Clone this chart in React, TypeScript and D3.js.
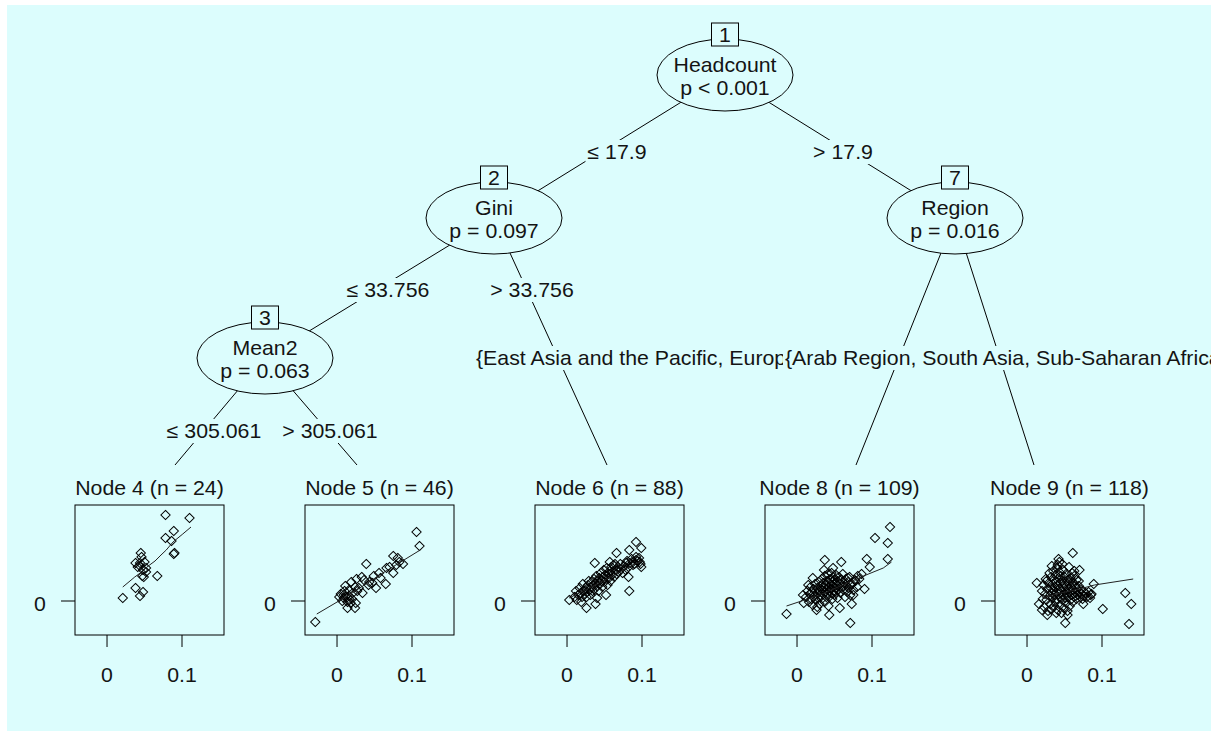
import React from "react";
import * as d3 from "d3";

// ---------- tree structure ----------
const innerIds = [1, 2, 3, 7];
const splitVars = ["Headcount", "Gini", "Mean2", "Region"];
const pLabels = ["p < 0.001", "p = 0.097", "p = 0.063", "p = 0.016"];

const edgeFrom = [1, 1, 2, 2, 3, 3, 7, 7];
const edgeTo = [2, 7, 3, 6, 4, 5, 8, 9];
const edgeText = [
  "≤ 17.9",
  "> 17.9",
  "≤ 33.756",
  "> 33.756",
  "≤ 305.061",
  "> 305.061",
  "{East Asia and the Pacific, Europe and Central Asia, Latin America and the Caribbean}",
  "{Arab Region, South Asia, Sub-Saharan Africa}",
];

const leafIds = [4, 5, 6, 8, 9];
const leafN = [24, 46, 88, 109, 118];

const xTicks = [0, 0.1];
const yTicks = [0];
const xDomain = [-0.0427, 0.156];
const yDomain = [-0.034, 0.096];

// ---------- terminal node observations ----------
const node4Points: [number, number][] = [
  [0.078, 0.086], [0.110, 0.083], [0.089, 0.070], [0.078, 0.063], [0.086, 0.060],
  [0.090, 0.048], [0.089, 0.047], [0.045, 0.048], [0.046, 0.044], [0.038, 0.038],
  [0.050, 0.039], [0.044, 0.035], [0.052, 0.033], [0.048, 0.031], [0.052, 0.029],
  [0.047, 0.025], [0.049, 0.024], [0.067, 0.025], [0.044, 0.038], [0.038, 0.013],
  [0.048, 0.009], [0.044, 0.005], [0.021, 0.003], [0.041, 0.034],
];
const node4Fit: [number, number][] = [
  [0.021, 0.014], [0.037, 0.024], [0.046, 0.029], [0.055, 0.035], [0.064, 0.040],
  [0.072, 0.046], [0.079, 0.051], [0.088, 0.059], [0.101, 0.067], [0.112, 0.074],
];

const node5Points: [number, number][] = [
  [0.106, 0.069], [0.110, 0.055], [0.075, 0.045], [0.081, 0.043], [0.083, 0.039],
  [0.088, 0.037], [0.079, 0.036], [0.039, 0.037], [0.066, 0.033], [0.075, 0.028],
  [0.049, 0.025], [0.058, 0.023], [0.033, 0.024], [0.026, 0.022], [0.043, 0.019],
  [0.065, 0.017], [0.052, 0.013], [0.019, 0.019], [0.011, 0.015], [0.024, 0.014],
  [0.034, 0.008], [0.016, 0.011], [0.009, 0.006], [0.003, 0.004], [0.011, 0.004],
  [0.016, 0.005], [0.007, 0.000], [0.014, -0.001], [0.020, 0.002], [0.018, -0.002],
  [0.025, -0.002], [0.014, -0.007], [0.024, -0.007], [-0.029, -0.021], [0.027, 0.010],
  [0.021, 0.008], [0.010, 0.010], [0.005, 0.007], [0.016, 0.002], [0.009, 0.003],
  [0.029, 0.013], [0.042, 0.016], [0.036, 0.021], [0.047, 0.018], [0.056, 0.028],
  [0.070, 0.034],
];
const node5Fit: [number, number][] = [
  [-0.027, -0.013], [0.016, 0.006], [0.061, 0.028], [0.111, 0.051],
];

const node6Points: [number, number][] = [
  [0.092, 0.059], [0.099, 0.053], [0.083, 0.051], [0.066, 0.048], [0.037, 0.038],
  [0.079, 0.038], [0.092, 0.041], [0.097, 0.039], [0.099, 0.034], [0.088, 0.036],
  [0.057, 0.039], [0.064, 0.037], [0.082, 0.024], [0.083, 0.010], [0.052, 0.006],
  [0.038, -0.003], [0.026, -0.007], [0.003, 0.001], [0.013, 0.001], [0.019, -0.001],
  [0.026, 0.004], [0.017, 0.013], [0.012, 0.010], [0.015, 0.006], [0.018, 0.008],
  [0.020, 0.004], [0.022, 0.010], [0.024, 0.007], [0.025, 0.013], [0.027, 0.009],
  [0.028, 0.016], [0.030, 0.011], [0.031, 0.006], [0.032, 0.014], [0.033, 0.019],
  [0.034, 0.010], [0.035, 0.016], [0.036, 0.022], [0.037, 0.012], [0.038, 0.018],
  [0.039, 0.025], [0.040, 0.015], [0.041, 0.020], [0.042, 0.010], [0.043, 0.023],
  [0.044, 0.017], [0.045, 0.028], [0.046, 0.020], [0.047, 0.014], [0.048, 0.024],
  [0.049, 0.031], [0.050, 0.019], [0.051, 0.026], [0.052, 0.022], [0.053, 0.033],
  [0.054, 0.016], [0.055, 0.027], [0.056, 0.023], [0.057, 0.030], [0.058, 0.020],
  [0.059, 0.034], [0.060, 0.026], [0.061, 0.029], [0.062, 0.036], [0.063, 0.024],
  [0.065, 0.031], [0.066, 0.027], [0.068, 0.034], [0.069, 0.029], [0.071, 0.037],
  [0.072, 0.032], [0.074, 0.028], [0.076, 0.035], [0.078, 0.031], [0.080, 0.040],
  [0.082, 0.034], [0.084, 0.038], [0.086, 0.042], [0.088, 0.039], [0.090, 0.037],
  [0.092, 0.044], [0.094, 0.040], [0.096, 0.043], [0.098, 0.037], [0.029, 0.020],
  [0.021, 0.017], [0.040, 0.003], [0.010, 0.004],
];
const node6Fit: [number, number][] = [
  [0.003, 0.003], [0.040, 0.017], [0.070, 0.029], [0.099, 0.040],
];

const node8Points: [number, number][] = [
  [0.124, 0.074], [0.104, 0.063], [0.121, 0.058], [0.121, 0.042], [0.093, 0.042],
  [0.097, 0.034], [0.090, 0.012], [0.073, -0.003], [0.071, -0.022], [-0.014, -0.013],
  [0.037, 0.041], [0.059, 0.039], [0.081, 0.025], [0.077, 0.021], [0.057, -0.007],
  [0.043, -0.014], [0.026, -0.009], [0.009, -0.002], [0.021, 0.023], [0.036, 0.031],
  [0.048, 0.033], [0.068, 0.023], [0.072, 0.016], [0.075, 0.006],
  [0.012, 0.004], [0.014, 0.010], [0.016, -0.001], [0.017, 0.007], [0.018, 0.014],
  [0.019, 0.002], [0.020, 0.009], [0.021, -0.004], [0.022, 0.012], [0.023, 0.005],
  [0.024, 0.017], [0.025, 0.001], [0.026, 0.008], [0.027, 0.013], [0.028, 0.003],
  [0.029, 0.019], [0.030, 0.010], [0.030, -0.003], [0.031, 0.006], [0.032, 0.015],
  [0.033, 0.022], [0.033, 0.002], [0.034, 0.011], [0.035, 0.007], [0.035, 0.018],
  [0.036, 0.013], [0.037, -0.001], [0.037, 0.025], [0.038, 0.009], [0.038, 0.016],
  [0.039, 0.004], [0.040, 0.012], [0.040, 0.020], [0.041, 0.008], [0.041, 0.027],
  [0.042, 0.014], [0.042, -0.005], [0.043, 0.010], [0.043, 0.018], [0.044, 0.005],
  [0.044, 0.022], [0.045, 0.012], [0.045, 0.016], [0.046, 0.008], [0.046, 0.028],
  [0.047, 0.019], [0.047, 0.002], [0.048, 0.014], [0.048, 0.024], [0.049, 0.010],
  [0.049, 0.017], [0.050, 0.006], [0.050, 0.021], [0.051, 0.013], [0.052, 0.026],
  [0.052, 0.009], [0.053, 0.016], [0.054, 0.003], [0.054, 0.020], [0.055, 0.012],
  [0.056, 0.024], [0.057, 0.017], [0.058, 0.008], [0.059, 0.021], [0.060, 0.014],
  [0.061, 0.027], [0.062, 0.011], [0.063, 0.018], [0.064, 0.004], [0.065, 0.022],
  [0.066, 0.015], [0.067, 0.009], [0.068, 0.019], [0.069, 0.013], [0.070, 0.024],
  [0.071, 0.006], [0.073, 0.017], [0.075, 0.011], [0.078, 0.020], [0.080, 0.014],
  [0.083, 0.022], [0.086, 0.027], [0.008, 0.006], [0.015, 0.016], [0.027, -0.006],
];
const node8Fit: [number, number][] = [
  [-0.014, -0.005], [0.030, 0.006], [0.061, 0.016], [0.092, 0.026], [0.115, 0.033],
  [0.126, 0.039],
];

const node9Points: [number, number][] = [
  [0.061, 0.048], [0.042, 0.042], [0.043, 0.039], [0.070, 0.031], [0.063, 0.030],
  [0.089, 0.017], [0.069, 0.020], [0.013, 0.018], [0.131, 0.008], [0.139, -0.003],
  [0.136, -0.023], [0.101, -0.008], [0.075, -0.003], [0.051, -0.022], [0.054, -0.014],
  [0.016, -0.003], [0.020, -0.009], [0.027, -0.014], [0.039, -0.012], [0.085, 0.006],
  [0.020, 0.010], [0.021, 0.002], [0.022, 0.016], [0.023, -0.006], [0.024, 0.007],
  [0.025, 0.022], [0.026, 0.001], [0.027, 0.012], [0.028, -0.010], [0.029, 0.018],
  [0.030, 0.005], [0.030, 0.028], [0.031, -0.003], [0.032, 0.013], [0.032, 0.024],
  [0.033, 0.008], [0.033, -0.008], [0.034, 0.017], [0.034, 0.003], [0.035, 0.030],
  [0.035, 0.011], [0.036, -0.005], [0.036, 0.021], [0.037, 0.006], [0.037, 0.014],
  [0.038, 0.026], [0.038, -0.001], [0.039, 0.009], [0.039, 0.019], [0.040, 0.033],
  [0.040, 0.002], [0.041, 0.015], [0.041, -0.009], [0.042, 0.023], [0.042, 0.007],
  [0.043, 0.012], [0.043, 0.029], [0.044, -0.004], [0.044, 0.018], [0.045, 0.004],
  [0.045, 0.025], [0.046, 0.010], [0.046, -0.012], [0.047, 0.020], [0.047, 0.001],
  [0.048, 0.014], [0.048, 0.031], [0.049, 0.006], [0.049, -0.007], [0.050, 0.017],
  [0.050, 0.024], [0.051, 0.003], [0.051, 0.011], [0.052, -0.002], [0.052, 0.027],
  [0.053, 0.015], [0.053, 0.008], [0.054, 0.021], [0.054, -0.010], [0.055, 0.012],
  [0.055, 0.004], [0.056, 0.034], [0.056, 0.018], [0.057, -0.005], [0.057, 0.009],
  [0.058, 0.023], [0.058, 0.001], [0.059, 0.014], [0.060, 0.028], [0.060, 0.006],
  [0.061, -0.001], [0.061, 0.019], [0.062, 0.011], [0.063, 0.025], [0.063, 0.004],
  [0.064, 0.016], [0.065, 0.008], [0.066, 0.021], [0.066, 0.002], [0.067, 0.012],
  [0.068, 0.006], [0.069, 0.015], [0.070, 0.009], [0.071, 0.004], [0.072, 0.011],
  [0.073, 0.007], [0.074, 0.002], [0.075, 0.010], [0.076, 0.005], [0.078, 0.008],
  [0.080, 0.004], [0.082, 0.009], [0.084, 0.003], [0.086, 0.007], [0.026, 0.020],
  [0.033, 0.035], [0.041, 0.036], [0.047, 0.037],
];
const node9Fit: [number, number][] = [
  [0.020, 0.003], [0.045, 0.008], [0.070, 0.012], [0.090, 0.016], [0.1416, 0.022],
];

const leafPoints = [node4Points, node5Points, node6Points, node8Points, node9Points];
const leafFits = [node4Fit, node5Fit, node6Fit, node8Fit, node9Fit];

// ---------- layout ----------
const W = 1220;
const H = 731;
const BG = "#dcfdfd";
const INK = "#141414";
const FONT = '"Liberation Sans", Arial, Helvetica, sans-serif';
const FS = 20;
const SX = 1.065; // horizontal stretch of the lettering

const innerPos: Record<number, [number, number]> = {
  1: [725, 75],
  2: [494, 218],
  3: [265, 358],
  7: [955, 218],
};
const ELL_RX = 68;
const ELL_RY = 36;

const LEAF_TOP = 465;
const leafCenter = (i: number) => 149.5 + 230 * i;
// where each incoming edge meets the top of the terminal panel
const leafEdgeX: Record<number, number> = { 4: 175, 5: 357, 6: 607, 8: 856, 9: 1034 };

// label anchor positions (x, centre y, anchor)
const edgeLabelPos: [number, number, "middle" | "start"][] = [
  [617, 152, "middle"],
  [843, 152, "middle"],
  [388, 290, "middle"],
  [532, 290, "middle"],
  [214, 431, "middle"],
  [330, 431, "middle"],
  [476, 358, "start"],
  [785, 358, "start"],
];

const PANEL_W = 149;
const PANEL_TOP = 505;
const PANEL_BOTTOM = 635;

let measureCtx: CanvasRenderingContext2D | null = null;
function textWidth(t: string): number {
  if (!measureCtx) {
    measureCtx = document.createElement("canvas").getContext("2d");
  }
  if (!measureCtx) return t.length * FS * 0.5 * SX;
  measureCtx.font = `${FS}px ${FONT}`;
  return measureCtx.measureText(t).width * SX;
}

function T({
  x,
  y,
  anchor = "middle",
  children,
}: {
  x: number;
  y: number;
  anchor?: "middle" | "start" | "end";
  children: React.ReactNode;
}) {
  return (
    <text
      transform={`translate(${x},${y}) scale(${SX},1)`}
      textAnchor={anchor}
      fontSize={FS}
      fill={INK}
    >
      {children}
    </text>
  );
}

function diamond(x: number, y: number, r: number) {
  return `M${x},${y - r}L${x + r},${y}L${x},${y + r}L${x - r},${y}Z`;
}

function nodePoint(id: number): [number, number] {
  if (innerPos[id]) return innerPos[id];
  return [leafEdgeX[id], LEAF_TOP];
}

function Leaf({ index }: { index: number }) {
  const cx = leafCenter(index);
  const left = cx - PANEL_W / 2;
  const right = cx + PANEL_W / 2;
  const x = d3.scaleLinear().domain(xDomain).range([left, right]);
  const y = d3.scaleLinear().domain(yDomain).range([PANEL_BOTTOM, PANEL_TOP]);
  const line = d3
    .line<[number, number]>()
    .x((d) => x(d[0]))
    .y((d) => y(d[1]));
  const fmt = d3.format("~g");
  return (
    <g>
      <T x={cx} y={495}>{`Node ${leafIds[index]} (n = ${leafN[index]})`}</T>
      <rect
        x={left}
        y={PANEL_TOP}
        width={PANEL_W}
        height={PANEL_BOTTOM - PANEL_TOP}
        fill="none"
        stroke="#000"
        strokeWidth={1}
      />
      {yTicks.map((t) => (
        <g key={`y${t}`}>
          <line x1={left - 14} x2={left} y1={y(t)} y2={y(t)} stroke="#000" />
          <T x={left - 35} y={y(t) + 10}>{fmt(t)}</T>
        </g>
      ))}
      {xTicks.map((t) => (
        <g key={`x${t}`}>
          <line x1={x(t)} x2={x(t)} y1={PANEL_BOTTOM} y2={PANEL_BOTTOM + 12} stroke="#000" />
          <T x={x(t)} y={PANEL_BOTTOM + 47}>{fmt(t)}</T>
        </g>
      ))}
      <g fill="none" stroke="#000" strokeWidth={1.05}>
        {leafPoints[index].map((p, k) => (
          <path key={k} d={diamond(x(p[0]), y(p[1]), 4.6)} />
        ))}
      </g>
      <path d={line(leafFits[index]) || ""} fill="none" stroke="#222" strokeWidth={1} />
    </g>
  );
}

export default function App() {
  return (
    <svg
      width={W}
      height={H}
      viewBox={`0 0 ${W} ${H}`}
      style={{ position: "absolute", left: 0, top: 0, fontFamily: FONT }}
    >
      <defs>
        <clipPath id="plotClip">
          <rect x={7} y={5} width={1204} height={726} />
        </clipPath>
      </defs>
      <rect x={0} y={0} width={W} height={H} fill="#fff" />
      <rect x={7} y={5} width={1204} height={726} fill={BG} />
      <g clipPath="url(#plotClip)">
        {/* edges */}
        <g stroke="#000" strokeWidth={1}>
          {edgeFrom.map((f, i) => {
            const [x1, y1] = nodePoint(f);
            const [x2, y2] = nodePoint(edgeTo[i]);
            return <line key={i} x1={x1} y1={y1} x2={x2} y2={y2} />;
          })}
        </g>
        {/* edge labels */}
        {edgeText.map((t, i) => {
          const [lx, ly, anchor] = edgeLabelPos[i];
          const w = textWidth(t);
          const bx = anchor === "middle" ? lx - w / 2 : lx;
          return (
            <g key={i}>
              <rect x={bx - 2} y={ly - 12} width={w + 4} height={24} fill={BG} />
              <T x={lx} y={ly + 7} anchor={anchor}>
                {t}
              </T>
            </g>
          );
        })}
        {/* inner nodes */}
        {innerIds.map((id, i) => {
          const [cx, cy] = innerPos[id];
          return (
            <g key={id}>
              <ellipse cx={cx} cy={cy} rx={ELL_RX} ry={ELL_RY} fill={BG} stroke="#000" />
              <T x={cx} y={cy - 3}>{splitVars[i]}</T>
              <T x={cx} y={cy + 20}>{pLabels[i]}</T>
              <rect x={cx - 13.5} y={cy - 52} width={27} height={23} fill={BG} stroke="#000" />
              <T x={cx} y={cy - 33}>{id}</T>
            </g>
          );
        })}
        {/* terminal panels */}
        {leafIds.map((_, i) => (
          <Leaf key={i} index={i} />
        ))}
      </g>
    </svg>
  );
}
